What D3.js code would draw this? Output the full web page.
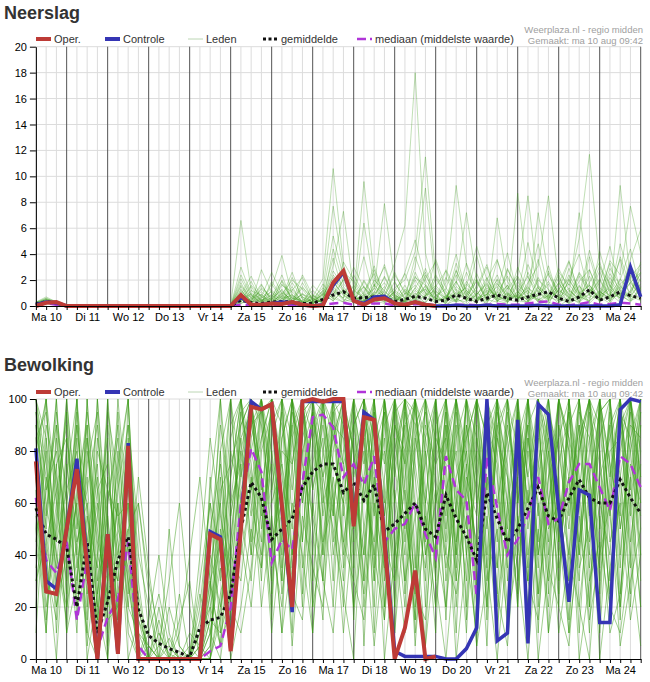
<!doctype html>
<html>
<head>
<meta charset="utf-8">
<script src="https://cdn.jsdelivr.net/npm/d3@7"></script>
<style>
  body { margin: 0; background: #fff; }
  svg { display: block; font-family: "Liberation Sans", Arial, sans-serif; }
</style>
</head>
<body>
<svg id="chart" width="650" height="682"></svg>
<script>
// ---- data (6-uurlijks vanaf ma 10 aug 06:00) ----
const dagLabels = ["Ma 10", "Di 11", "Wo 12", "Do 13", "Vr 14", "Za 15", "Zo 16",
  "Ma 17", "Di 18", "Wo 19", "Do 20", "Vr 21", "Za 22", "Zo 23", "Ma 24"];
const neerslagTicks = [0, 2, 4, 6, 8, 10, 12, 14, 16, 18, 20];
const bewolkingTicks = [0, 20, 40, 60, 80, 100];

const operNeerslag = [0, 0.25, 0.3, 0, 0, 0, 0, 0, 0, 0, 0, 0, 0, 0, 0, 0, 0, 0, 0, 0,
  0.85, 0.1, 0.1, 0.2, 0.15, 0.3, 0.1, 0, 0.05, 1.8, 2.7, 0.4, 0.1, 0.5, 0.6, 0.2, 0.1, 0.3, 0.1, 0];
const controleNeerslag = [0.1, 0.3, 0.25, 0, 0, 0, 0, 0, 0, 0, 0, 0, 0, 0, 0, 0, 0, 0, 0, 0,
  0.7, 0.1, 0.1, 0.2, 0.3, 0.25, 0.1, 0, 0.1, 1.6, 2.6, 0.4, 0.2, 0.7, 0.75, 0.2, 0.1, 0.3, 0.1, 0,
  0, 0.05, 0, 0, 0.05, 0, 0, 0, 0, 0.05, 0, 0, 0, 0, 0, 0, 0, 0.1, 3.0, 0.7];
const gemiddeldeNeerslag = [0.15, 0.35, 0.25, 0, 0, 0, 0, 0, 0, 0, 0, 0, 0, 0, 0, 0, 0, 0, 0, 0.02,
  0.45, 0.25, 0.2, 0.3, 0.35, 0.3, 0.2, 0.2, 0.5, 0.85, 1.1, 0.6, 0.65, 0.7, 0.6, 0.35, 0.5, 0.75, 0.6, 0.35,
  0.45, 0.85, 0.6, 0.35, 0.6, 0.85, 0.6, 0.45, 0.7, 0.9, 1.1, 0.6, 0.35, 0.7, 1.25, 0.45, 0.7, 1.1, 0.8, 0.6];
const mediaanNeerslag = [0.1, 0.2, 0.1, 0, 0, 0, 0, 0, 0, 0, 0, 0, 0, 0, 0, 0, 0, 0, 0, 0,
  0.1, 0.05, 0.05, 0.1, 0.1, 0.1, 0.05, 0, 0.1, 0.2, 0.25, 0.1, 0.15, 0.2, 0.2, 0.05, 0.1, 0.15, 0.1, 0.05,
  0.05, 0.1, 0.1, 0.05, 0.1, 0.15, 0.1, 0.1, 0.2, 0.3, 0.35, 0.1, 0.05, 0.15, 0.3, 0.1, 0.15, 0.25, 0.2, 0.1];
const ledenNeerslag = [
  "0.2 0.5 0.2 0 0 0 0 0 0 0 0 0 0 0 0 0 0 0 0 0 6.6 1.2 0.4 0.8 0.3 1.5 0.2 0 0.6 1.8 2.4 0.5 0.3 1.1 0.8 0 0.4 2.2 1.6 0.3 0 0.9 1.4 0.6 0.2 1.7 0.8 0.4 2.6 1.1 0.3 0 0.5 1.9 2.8 0.7 0.2 1.3 3.1 1.0",
  "0.1 0.3 0.2 0 0 0 0 0 0 0 0 0 0 0 0 0 0 0 0 0 1.8 0.3 0.9 0.2 1.1 0.4 0 0.7 2.1 10.6 3.2 0.8 1.5 0.4 0.2 1.2 0.6 0.3 2.4 0.9 0.1 0.5 3.3 1.2 0 0.8 1.6 0.4 0.3 2.2 0.7 1.4 0.2 0.6 1.8 3.4 0.9 0.3 1.1 2.5",
  "0.3 0.7 0.3 0 0 0 0 0 0 0 0 0 0 0 0 0 0 0 0 0 0.9 2.3 0.6 1.4 3.9 0.8 0.3 0.1 1.2 7.7 2.6 1.9 0.4 0.8 2.2 0.6 0.3 1.0 0.2 1.5 2.7 0.6 0.1 0.9 1.8 0.4 0.2 3.0 1.1 0.5 0.8 2.4 0.6 0.3 1.3 0.7 2.9 1.6 0.4 0.8",
  "0.1 0.2 0.1 0 0 0 0 0 0 0 0 0 0 0 0 0 0 0 0 0 2.1 0.6 1.7 0.3 0.9 2.0 1.3 0.2 0.5 3.1 7.3 1.2 0.6 2.8 0.9 0.4 1.6 0.2 0.8 3.6 1.4 0.3 0.6 2.0 0.5 1.2 4.1 0.8 0.2 1.0 2.5 0.6 1.4 0.3 0.9 2.1 0.7 3.8 1.5 0.4",
  "0.2 0.4 0.3 0 0 0 0 0 0 0 0 0 0 0 0 0 0 0 0 0 0.4 1.5 0.3 0.6 1.2 0.3 2.4 0.8 0.2 1.4 2.8 0.6 9.6 2.2 0.4 1.1 0.3 2.6 1.0 0.2 0.7 1.9 0.4 1.5 3.2 0.6 0.3 1.0 2.3 0.5 0.1 1.7 3.5 0.9 0.4 1.2 0.3 2.0 4.4 1.1",
  "0 0.2 0.1 0 0 0 0 0 0 0 0 0 0 0 0 0 0 0 0 0 1.3 0.2 2.8 1.0 0.4 0.9 0.2 1.6 0.8 2.2 1.1 0.3 6.4 1.5 3.0 0.7 0.2 1.4 0.5 2.1 0.9 0.3 1.7 0.8 0.4 6.8 1.9 0.6 1.2 0.3 2.7 0.9 0.4 1.6 0.2 1.0 3.3 0.7 1.8 2.6",
  "0.3 0.6 0.2 0 0 0 0 0 0 0 0 0 0 0 0 0 0 0 0 0 0.6 0.9 0.2 1.9 0.7 2.6 0.5 0.3 1.7 0.6 3.4 2.0 0.8 1.3 7.9 1.8 0.6 0.3 2.9 0.8 0.2 1.3 0.6 3.9 1.0 0.4 0.8 2.2 0.3 1.5 0.9 0.2 2.1 4.0 0.8 0.5 1.6 0.4 1.2 3.0",
  "0.1 0.3 0.3 0 0 0 0 0 0 0 0 0 0 0 0 0 0 0 0 0 1.1 0.4 1.3 0.6 2.4 0.3 1.0 0.2 0.6 2.7 1.5 0.4 2.0 0.7 1.2 3.3 6.2 18 4.1 0.9 0.3 2.4 0.8 0.2 1.6 0.5 2.9 1.1 0.4 0.8 1.7 0.3 0.6 2.5 1.1 0.4 2.2 0.9 0.3 1.4",
  "0.2 0.3 0.1 0 0 0 0 0 0 0 0 0 0 0 0 0 0 0 0 0 0.3 1.0 0.5 0.2 1.6 1.1 0.3 0.9 0.2 1.3 0.6 2.4 0.9 3.1 0.5 1.4 2.0 4.2 11.5 2.3 0.8 0.4 1.9 0.7 0.3 1.1 0.5 2.3 0.9 3.6 0.4 1.2 0.7 0.2 2.8 0.9 0.4 1.7 2.4 0.6",
  "0.1 0.4 0.2 0 0 0 0 0 0 0 0 0 0 0 0 0 0 0 0 0 2.4 0.8 0.3 1.2 0.6 0.2 1.8 0.5 0.3 0.9 2.0 0.7 0.3 1.6 0.8 2.6 0.9 3.0 9.1 1.4 0.5 2.8 0.6 0.3 1.4 0.8 0.3 1.9 0.6 1.2 0.4 2.2 0.8 7.2 1.6 0.5 1.3 0.6 3.1 1.9",
  "0.2 0.5 0.4 0 0 0 0 0 0 0 0 0 0 0 0 0 0 0 0 0 0.2 0.6 1.1 0.4 0.3 1.8 0.6 0.1 1.0 0.4 1.2 0.3 1.9 0.6 2.3 0.8 0.4 1.4 2.6 0.5 1.8 9.3 3.2 0.6 0.9 2.4 0.5 0.3 1.4 0.8 3.1 0.6 0.2 1.5 0.9 2.7 0.4 1.0 0.6 2.1",
  "0.1 0.2 0.2 0 0 0 0 0 0 0 0 0 0 0 0 0 0 0 0 0 1.5 0.3 0.7 0.2 2.0 0.6 0.4 1.2 0.5 1.8 0.9 0.2 1.1 2.5 0.6 0.3 1.3 0.7 2.1 3.4 0.6 1.7 7.2 1.9 0.4 1.0 2.3 0.6 1.5 0.3 0.8 2.9 1.2 0.5 3.8 1.1 0.6 9.3 2.0 0.7",
  "0.3 0.4 0.2 0 0 0 0 0 0 0 0 0 0 0 0 0 0 0 0 0 0.7 1.9 0.4 0.9 0.2 1.2 2.2 0.4 0.8 3.7 1.0 0.5 0.2 1.7 0.4 1.1 2.5 0.6 1.3 0.3 2.2 0.7 1.5 4.6 2.0 0.8 0.4 8.7 2.2 1.0 0.5 1.8 0.6 2.6 1.4 0.3 1.9 0.8 0.4 1.5",
  "0.1 0.3 0.1 0 0 0 0 0 0 0 0 0 0 0 0 0 0 0 0 0 0.5 0.2 1.4 0.7 1.9 0.4 0.2 0.6 1.4 0.5 2.1 1.3 0.5 0.9 1.8 0.6 0.3 2.0 0.8 1.2 0.4 3.3 0.9 2.1 0.6 3.5 1.3 2.4 8.5 1.6 0.7 0.4 2.0 0.8 0.3 4.2 1.5 0.6 2.2 3.2",
  "0.2 0.6 0.3 0 0 0 0 0 0 0 0 0 0 0 0 0 0 0 0 0 1.6 0.6 0.3 1.7 0.5 2.2 0.7 0.3 0.4 1.1 0.6 3.0 1.4 0.4 0.7 2.4 1.1 0.5 1.6 0.4 2.8 1.2 0.5 1.3 3.0 0.6 1.6 0.4 1.8 3.1 8.5 2.0 0.9 0.4 1.3 0.6 2.5 1.2 0.8 1.7",
  "0.1 0.2 0.1 0 0 0 0 0 0 0 0 0 0 0 0 0 0 0 0 0 0.3 1.2 0.8 0.2 1.0 0.5 1.5 0.4 1.1 0.6 0.3 1.6 0.4 2.0 1.2 0.3 0.9 1.6 0.7 2.4 1.1 0.4 2.6 0.9 1.7 0.3 2.8 1.4 0.6 7.2 2.4 1.0 1.7 0.6 2.3 0.8 1.4 3.6 0.5 1.2",
  "0.2 0.3 0.2 0 0 0 0 0 0 0 0 0 0 0 0 0 0 0 0 0 0.8 0.4 1.6 0.5 0.7 0.3 0.9 0.6 0.2 1.9 0.8 0.4 1.5 0.6 0.3 1.9 0.5 2.3 1.0 0.6 0.3 1.5 0.8 1.9 0.4 2.1 0.9 0.6 3.2 1.4 0.5 2.6 1.6 5.2 11.7 3.0 1.1 0.6 2.7 1.3",
  "0.1 0.4 0.3 0 0 0 0 0 0 0 0 0 0 0 0 0 0 0 0 0 1.2 0.3 0.6 1.1 0.4 1.3 0.3 0.8 0.5 1.2 0.4 0.9 0.3 1.4 0.6 0.2 1.2 0.4 0.8 1.6 0.6 1.0 0.4 2.5 0.8 1.8 0.5 1.1 0.4 2.0 1.3 0.5 2.9 1.0 1.6 0.7 3.5 2.4 7.7 4.1",
  "0.2 0.2 0.1 0 0 0 0 0 0 0 0 0 0 0 0 0 0 0 0 0 0.4 0.8 0.2 0.5 1.3 0.2 0.7 0.3 0.9 0.4 1.3 0.5 0.8 0.3 1.1 0.5 0.2 0.9 1.3 0.6 0.2 1.1 0.5 0.8 2.2 0.4 1.0 0.7 0.3 1.4 0.6 1.8 0.4 2.3 1.0 3.1 1.6 0.8 3.6 5.9",
  "0.1 0.3 0.2 0 0 0 0 0 0 0 0 0 0 0 0 0 0 0 0 0 0.2 0.5 0.9 0.3 0.6 0.8 0.4 0.2 0.7 1.5 0.5 0.3 0.9 0.4 0.6 0.3 1.0 0.5 0.3 1.1 0.6 0.3 1.2 0.4 0.7 1.5 0.3 0.9 0.5 0.8 1.9 0.4 1.2 0.6 0.9 2.0 0.5 1.5 0.8 0.4",
  "0.2 0.5 0.2 0 0 0 0 0 0 0 0 0 0 0 0 0 0 0 0 0 0.9 0.3 0.5 0.6 0.2 0.7 0.3 0.5 1.2 0.8 0.3 0.6 0.4 0.9 0.3 0.7 0.4 1.2 0.6 0.3 0.8 0.5 0.3 1.0 0.5 0.3 1.4 0.6 0.8 0.4 1.1 0.7 0.3 0.9 1.6 0.4 0.8 2.1 1.0 2.6",
  "0.1 0.2 0.2 0 0 0 0 0 0 0 0 0 0 0 0 0 0 0 0 0 0.6 0.3 0.4 0.2 0.8 0.4 0.9 0.3 0.4 2.4 1.3 0.5 0.7 0.3 0.5 0.9 0.3 0.6 1.5 0.4 0.6 1.9 0.4 0.5 1.2 0.8 0.4 1.6 0.9 0.5 0.3 1.3 2.1 0.7 0.4 1.1 0.6 0.9 1.8 0.7",
  "0.3 0.5 0.3 0 0 0 0 0 0 0 0 0 0 0 0 0 0 0 0 0 3.0 0.9 0.4 0.5 1.7 0.6 0.3 0.4 0.9 5.4 2.2 0.7 0.4 1.0 3.2 0.8 0.5 3.8 1.7 0.6 0.4 2.7 1.2 0.5 0.9 2.0 0.6 0.8 4.9 1.4 0.6 1.2 3.4 1.0 0.6 1.8 4.6 1.1 0.7 3.4",
  "0.1 0.4 0.1 0 0 0 0 0 0 0 0 0 0 0 0 0 0 0 0 0 0.5 1.6 0.7 2.6 0.9 0.3 1.4 0.6 0.2 4.4 1.7 0.9 3.8 0.6 1.5 0.4 2.6 5.1 2.0 0.8 1.3 4.0 1.0 0.4 2.0 3.6 0.9 0.5 1.6 4.8 1.2 0.7 2.4 0.9 4.3 1.4 0.8 4.8 1.9 0.6"
].map(s => s.trim().split(/\s+/).map(Number));

const operBewolking = [76, 26, 25, 50, 73, 36, 0, 48, 2, 82, 0, 0, 0, 0, 0, 0, 0, 48, 46, 3,
  50, 97, 96, 98, 59, 20, 99, 100, 99, 100, 100, 51, 93, 92, 45, 0, 12, 34, 0, 1];
const controleBewolking = [81, 30, 27, 50, 77, 38, 0, 48, 2, 83, 0, 0, 0, 0, 0, 0, 0, 49, 47, 4,
  52, 99, 96, 98, 58, 18, 99, 99, 99, 99, 99, 52, 95, 92, 47, 3, 1, 1, 1, 1,
  0, 0, 4, 12, 100, 7, 10, 92, 6, 98, 94, 58, 22, 65, 63, 14, 14, 96, 100, 99];
const gemiddeldeBewolking = [58, 48, 46, 43, 20, 45, 10, 22, 38, 47, 19, 9, 6, 4, 2.5, 0.8, 12, 15, 16, 25,
  50, 68, 62, 46, 50, 54, 66, 72, 75, 75, 64, 68, 61, 67, 49, 52, 56, 60, 50, 47,
  63, 54, 47, 38, 64, 54, 45, 50, 58, 66, 55, 53, 62, 69, 62, 60, 60, 69, 62, 56];
const mediaanBewolking = [62, 38, 33, 45, 15, 38, 4, 16, 23, 45, 5, 0, 0, 0, 0, 0, 0, 3, 5, 20,
  60, 81, 72, 37, 46, 42, 68, 93, 94, 89, 70, 75, 67, 78, 45, 50, 52, 60, 48, 39,
  78, 65, 61, 24, 78, 58, 40, 46, 55, 70, 52, 54, 68, 75, 75, 66, 57, 78, 75, 66];
const ledenBewolking = [
  "90 60 35 80 20 55 10 45 30 70 5 0 10 2 0 0 15 40 20 60 95 100 70 30 85 100 60 90 100 45 80 100 20 65 95 30 70 100 55 10 90 40 100 75 20 85 60 100 30 70 95 50 10 80 100 65 25 90 100 70",
  "70 20 50 95 40 10 0 60 85 30 0 5 0 0 3 0 0 10 35 5 60 90 100 45 20 75 100 55 30 95 100 60 85 30 100 45 10 80 95 65 20 100 55 5 80 100 40 70 90 25 60 100 85 35 50 100 75 20 60 95",
  "100 85 20 40 100 30 65 5 50 90 20 0 0 8 0 2 30 60 10 85 100 40 95 100 60 10 90 100 70 100 35 90 60 100 20 75 100 40 5 90 100 30 65 100 85 10 95 60 100 40 80 25 100 60 10 95 100 40 85 55",
  "60 40 75 10 65 90 25 80 15 50 0 10 25 5 0 0 0 5 50 30 75 100 50 85 100 35 65 95 40 80 100 20 95 70 45 100 60 15 85 100 50 90 20 100 60 35 100 80 15 95 40 90 70 100 30 60 90 15 100 80",
  "85 95 60 30 85 5 40 95 70 20 60 30 10 0 0 0 5 25 80 100 40 65 100 70 30 95 80 20 100 60 90 45 100 10 70 95 30 100 60 20 85 100 40 70 100 20 55 95 70 100 10 75 95 40 100 80 20 70 95 30",
  "50 10 90 65 30 75 95 20 60 0 15 0 0 0 10 40 70 30 5 45 90 100 35 100 75 50 100 65 85 30 100 80 40 90 55 100 85 25 100 70 35 60 100 25 90 75 10 100 50 85 100 35 60 90 20 100 55 90 40 100",
  "95 70 45 100 55 35 60 0 95 40 0 0 5 30 60 20 0 0 15 70 100 80 60 20 100 85 45 100 95 75 60 100 5 85 100 40 95 70 30 100 70 10 85 100 40 95 75 20 85 60 30 100 80 10 70 95 60 100 20 75",
  "30 55 100 20 90 45 15 70 40 85 40 20 0 0 0 0 10 65 100 25 55 30 80 95 40 100 70 10 60 100 75 30 100 55 85 20 100 90 40 75 100 65 30 90 15 100 85 45 100 20 70 85 40 100 65 15 100 50 80 100",
  "75 100 30 55 10 100 40 25 80 10 0 0 0 20 5 0 0 35 60 10 80 55 100 65 95 20 100 85 45 90 40 95 75 100 30 85 50 100 80 35 95 20 70 55 100 45 90 65 30 100 85 20 100 70 45 100 30 80 100 60",
  "100 45 65 90 35 70 5 100 25 60 10 5 0 0 0 0 25 10 40 90 100 70 45 100 60 90 25 100 80 55 100 70 90 35 100 60 20 85 100 45 60 100 80 40 100 70 20 100 55 90 50 60 30 95 85 40 100 70 25 90",
  "45 80 10 70 100 20 85 55 5 100 30 0 0 0 0 5 0 50 75 40 70 100 90 55 10 100 85 40 100 65 20 100 65 45 90 100 75 5 60 100 40 85 100 20 70 55 100 30 80 45 100 70 15 85 100 30 70 100 60 20",
  "80 30 85 45 75 60 20 90 50 35 0 15 40 10 0 0 0 20 5 55 85 45 100 80 50 100 35 75 100 90 85 40 100 75 20 95 100 60 35 85 15 95 60 100 35 90 45 85 100 10 90 45 100 20 60 85 100 35 100 50",
  "65 15 55 100 50 85 45 30 100 55 5 0 0 0 25 0 0 15 70 20 95 75 30 100 90 65 100 50 15 100 55 85 30 100 65 10 90 100 50 80 100 35 90 65 5 100 70 40 90 100 25 90 55 100 35 70 85 100 45 80",
  "100 75 40 15 95 40 70 10 65 90 50 10 0 0 0 0 0 70 30 80 60 100 70 15 100 40 80 95 65 20 95 55 80 20 100 75 40 100 85 60 80 100 15 85 60 100 30 75 100 65 55 100 80 45 95 10 65 100 80 40",
  "40 90 70 35 60 15 100 50 20 75 0 0 20 0 0 10 5 30 45 100 45 85 100 60 75 30 95 100 55 85 100 15 70 95 40 100 65 30 100 50 90 45 100 70 30 85 100 55 20 100 75 30 90 100 55 80 20 95 65 100",
  "90 50 95 60 25 100 30 65 45 15 0 0 0 0 0 0 40 85 55 35 100 60 40 90 100 75 20 85 100 60 30 90 100 60 15 90 80 100 20 95 65 80 40 100 85 25 100 60 90 35 100 55 70 30 100 90 45 60 100 70",
  "55 35 15 85 45 65 90 35 75 100 20 0 0 50 5 0 0 0 25 45 85 95 60 100 35 85 100 70 95 40 70 100 50 80 95 20 100 55 75 100 45 100 75 10 95 60 85 100 40 75 100 65 40 80 100 50 95 25 70 100",
  "100 65 80 50 70 25 55 85 10 45 0 0 0 0 0 0 0 45 90 60 75 40 85 100 55 100 60 90 40 100 90 35 100 85 60 100 45 90 100 30 100 55 90 30 100 80 35 95 60 85 35 100 60 90 40 100 75 55 90 85",
  "80 100 25 75 40 90 15 60 90 25 70 35 5 0 0 0 0 15 10 25 55 90 70 35 100 55 85 100 30 95 45 75 95 40 100 60 90 35 100 85 75 30 100 85 50 100 60 25 100 55 85 45 100 65 20 95 100 50 75 60",
  "35 65 90 25 100 55 35 100 55 60 0 0 0 0 15 30 0 5 65 75 90 100 55 75 45 90 100 30 80 100 100 50 85 100 35 80 100 75 45 90 55 100 65 45 100 35 80 100 70 25 95 80 50 100 70 35 90 100 55 95",
  "70 25 60 95 15 80 50 20 70 100 15 5 0 0 0 0 0 0 80 15 65 80 100 40 85 100 45 95 70 85 100 65 40 95 75 100 25 85 60 100 30 70 85 100 20 90 100 50 85 40 70 100 30 85 100 60 40 95 85 100",
  "20 85 45 65 80 35 100 40 30 80 5 0 15 0 0 0 20 60 40 70 100 65 85 100 70 40 95 100 60 75 60 100 85 30 100 70 100 20 90 75 85 40 100 60 90 100 50 85 35 100 60 85 100 40 80 100 55 20 100 65",
  "95 55 100 40 60 95 65 75 35 50 60 25 0 0 0 0 0 25 100 55 80 100 65 95 30 100 75 55 100 85 75 90 100 65 80 35 100 95 65 40 100 75 50 100 65 100 40 90 60 100 80 40 95 60 85 100 70 100 35 90",
  "60 10 75 85 55 10 80 65 55 30 0 0 0 5 0 0 5 0 60 100 70 90 95 25 80 75 100 65 90 55 100 80 30 100 55 90 75 100 40 60 95 60 80 40 100 85 70 20 100 75 45 100 85 65 100 25 80 85 100 40",
  "30 45 20 50 70 0 25 55 15 80 0 0 0 0 0 0 0 0 20 40 30 70 20 55 10 40 100 20 45 60 10 55 25 70 0 40 65 15 80 30 0 45 75 20 55 10 60 35 0 50 20 65 10 45 75 0 35 60 15 40",
  "10 70 40 20 45 60 5 30 60 20 10 0 0 0 0 0 0 10 0 30 45 20 60 10 50 25 15 60 30 10 60 20 50 5 45 30 80 10 55 20 65 0 40 10 70 25 5 55 30 15 60 10 40 20 0 55 10 25 70 20",
  "50 100 65 10 30 85 20 0 40 65 0 0 0 0 0 0 10 20 45 0 20 50 35 80 25 60 40 10 70 50 25 0 70 40 15 65 30 55 5 45 20 60 10 80 35 0 45 70 20 60 10 40 70 0 30 45 20 10 40 5",
  "85 40 0 60 90 45 75 15 20 45 25 0 0 0 0 0 0 30 5 20 10 35 70 45 60 5 55 35 20 70 45 30 15 60 35 10 55 25 15 65 40 25 55 5 30 50 15 40 65 0 35 20 5 55 15 40 60 5 30 50"
].map(s => s.trim().split(/\s+/).map(Number));

// ---- tijdas ----
const start = Date.UTC(2020, 7, 10, 6);
const stap = 6 * 3600 * 1000;
const tijd = i => new Date(start + i * stap);
const zesUur = d3.range(60).map(tijd);
const dag0 = Date.UTC(2020, 7, 10);

const svg = d3.select("#chart");
const x = d3.scaleUtc().domain([tijd(0), tijd(59)]).range([35.9, 640.7]);

const panelen = [
  { titel: "Neerslag", titelY: 19, legendaY: 39, top: 46.7, bodem: 306, max: 20, ticks: neerslagTicks,
    oper: operNeerslag, controle: controleNeerslag, leden: ledenNeerslag,
    gem: gemiddeldeNeerslag, med: mediaanNeerslag, ledenOpacity: 0.32 },
  { titel: "Bewolking", titelY: 371, legendaY: 392, top: 399, bodem: 659, max: 100, ticks: bewolkingTicks,
    oper: operBewolking, controle: controleBewolking, leden: ledenBewolking,
    gem: gemiddeldeBewolking, med: mediaanBewolking, ledenOpacity: 0.48 }
];

const kleur = { oper: "#bd3b36", controle: "#3535b4", leden: "#3a9a18", gem: "#111", med: "#b035d8" };

panelen.forEach(p => {
  const g = svg.append("g");
  const y = d3.scaleLinear().domain([0, p.max]).range([p.bodem, p.top]);
  const lijn = d3.line().x((d, i) => x(tijd(i))).y(d => y(d));

  g.append("text").attr("x", 4).attr("y", p.titelY)
    .attr("font-size", 18).attr("font-weight", "bold").attr("fill", "#333").text(p.titel);

  // legenda
  const legenda = [
    { label: "Oper.", x: 36, stroke: kleur.oper, w: 4, dash: null },
    { label: "Controle", x: 105, stroke: kleur.controle, w: 4, dash: null },
    { label: "Leden", x: 188, stroke: "#bcd6b4", w: 1, dash: null },
    { label: "gemiddelde", x: 263, stroke: kleur.gem, w: 3, dash: "3,2.5" },
    { label: "mediaan (middelste waarde)", x: 357, stroke: kleur.med, w: 2.5, dash: "9,4,2,4" }
  ];
  const lg = g.append("g").selectAll("g").data(legenda).join("g");
  lg.append("line").attr("x1", d => d.x).attr("x2", d => d.x + 15)
    .attr("y1", p.legendaY).attr("y2", p.legendaY)
    .attr("stroke", d => d.stroke).attr("stroke-width", d => d.w)
    .attr("stroke-dasharray", d => d.dash);
  lg.append("text").attr("x", d => d.x + 18).attr("y", p.legendaY + 4)
    .attr("font-size", 11).attr("fill", "#333").text(d => d.label);

  g.append("text").attr("x", 643).attr("y", p.legendaY - 6.5).attr("text-anchor", "end")
    .attr("font-size", 9.5).attr("fill", "#a0a0a0").text("Weerplaza.nl - regio midden");
  g.append("text").attr("x", 643).attr("y", p.legendaY + 4.5).attr("text-anchor", "end")
    .attr("font-size", 9.5).attr("fill", "#a0a0a0").text("Gemaakt: ma 10 aug 09:42");

  // raster
  g.append("g").selectAll("line").data(p.ticks.filter(v => v > 0)).join("line")
    .attr("x1", x.range()[0]).attr("x2", x.range()[1])
    .attr("y1", d => y(d)).attr("y2", d => y(d))
    .attr("stroke", "#dcdcdc").attr("stroke-width", 1);
  const licht = zesUur.filter(d => d.getUTCHours() !== 0);
  const donker = zesUur.filter(d => d.getUTCHours() === 0);
  g.append("g").selectAll("line").data(licht).join("line")
    .attr("x1", d => x(d)).attr("x2", d => x(d)).attr("y1", p.top).attr("y2", p.bodem)
    .attr("stroke", "#dcdcdc").attr("stroke-width", 1);
  g.append("g").selectAll("line").data(donker).join("line")
    .attr("x1", d => x(d)).attr("x2", d => x(d)).attr("y1", p.top).attr("y2", p.bodem)
    .attr("stroke", "#555").attr("stroke-width", 1);

  // leden
  g.append("g").selectAll("path").data(p.leden).join("path")
    .attr("d", lijn).attr("fill", "none")
    .attr("stroke", kleur.leden).attr("stroke-opacity", p.ledenOpacity).attr("stroke-width", 1);

  g.append("path").attr("d", lijn(p.med)).attr("fill", "none")
    .attr("stroke", kleur.med).attr("stroke-width", 2.5).attr("stroke-dasharray", "9,5");
  g.append("path").attr("d", lijn(p.gem)).attr("fill", "none")
    .attr("stroke", kleur.gem).attr("stroke-width", 3).attr("stroke-dasharray", "3,3");
  g.append("path").attr("d", lijn(p.controle)).attr("fill", "none")
    .attr("stroke", kleur.controle).attr("stroke-width", 3.5);
  g.append("path").attr("d", lijn(p.oper)).attr("fill", "none")
    .attr("stroke", kleur.oper).attr("stroke-width", 4);

  // assen
  const xas = g.append("g").attr("transform", `translate(0,${p.bodem})`)
    .call(d3.axisBottom(x).tickValues(zesUur).tickSize(4).tickSizeOuter(0).tickPadding(3)
      .tickFormat(d => d.getUTCHours() === 12 ? dagLabels[Math.floor((d - dag0) / 86400000)] : ""));
  const yas = g.append("g").attr("transform", `translate(${x.range()[0]},0)`)
    .call(d3.axisLeft(y).tickValues(p.ticks).tickSize(6).tickSizeOuter(0).tickPadding(3));
  [xas, yas].forEach(a => a.attr("font-size", 11).attr("font-family", "Liberation Sans, Arial, sans-serif"));
});
</script>
</body>
</html>
